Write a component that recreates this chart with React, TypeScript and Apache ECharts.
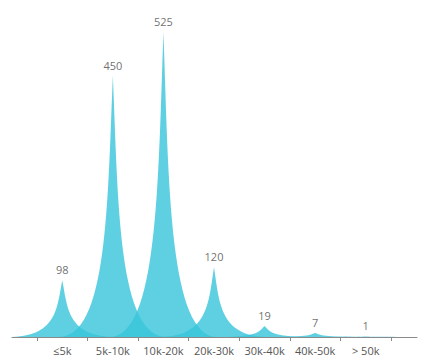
import React, { useEffect, useRef } from "react";
import * as echarts from "echarts";

const categories = ["≤5k", "5k-10k", "10k-20k", "20k-30k", "30k-40k", "40k-50k", "> 50k"];
const values = [98, 450, 525, 120, 19, 7, 1];
const yMax = 525;

const spike = "path://M0,10 L10,10 C5.5,10 5.5,5 5,0 C4.5,5 4.5,10 0,10 z";

export default function App() {
  const ref = useRef<HTMLDivElement>(null);
  useEffect(() => {
    if (!ref.current) return;
    const chart = echarts.init(ref.current, undefined, { renderer: "svg" });
    const font = "'Open Sans', sans-serif";
    chart.setOption({
      animation: false,
      grid: [
        { left: 12, right: 11, top: 32, bottom: 27 },
        { left: 37, right: 37, top: 32, bottom: 27 },
      ],
      xAxis: [
        {
          gridIndex: 0,
          type: "category",
          data: [""],
          axisLine: { show: true, lineStyle: { color: "#8a8a8a", width: 1 } },
          axisTick: { show: false },
          axisLabel: { show: false },
        },
        {
          gridIndex: 1,
          type: "category",
          data: categories,
          axisLine: { show: false },
          axisTick: { show: true, length: 4, lineStyle: { color: "#8a8a8a" } },
          axisLabel: { color: "#555", fontSize: 11, fontFamily: font, margin: 8, interval: 0 },
        },
      ],
      yAxis: [
        { gridIndex: 0, type: "value", show: false, min: 0, max: yMax, splitLine: { show: false } },
        { gridIndex: 1, type: "value", show: false, min: 0, max: yMax, splitLine: { show: false } },
      ],
      series: [
        {
          type: "pictorialBar",
          xAxisIndex: 1,
          yAxisIndex: 1,
          data: values,
          symbol: spike,
          barCategoryGap: "-115%",
          itemStyle: { color: "#37c4d9", opacity: 0.8 },
          label: {
            show: true,
            position: "top",
            distance: 5,
            color: "#4a4a4a",
            fontSize: 11,
            fontFamily: font,
          },
        },
      ],
    });
    return () => chart.dispose();
  }, []);
  return <div ref={ref} style={{ width: 428, height: 364, position: "absolute", left: 0, top: 0 }} />;
}
